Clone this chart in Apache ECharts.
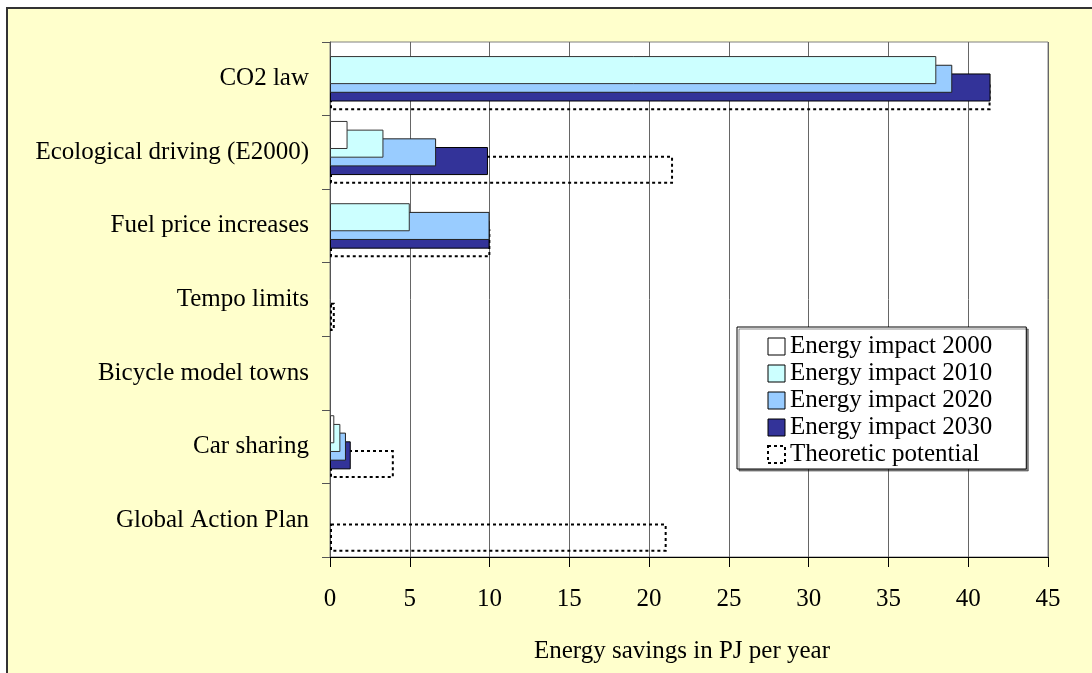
<!DOCTYPE html>
<html>
<head>
<meta charset="utf-8">
<script src="https://cdn.jsdelivr.net/npm/echarts@6/dist/echarts.min.js"></script>
<style>
html,body{margin:0;padding:0;background:#fff;overflow:hidden;width:1092px;height:673px;}
#frame{position:absolute;left:6px;top:7px;width:1200px;height:800px;background:#FFFFCC;border:2px solid #333;}
#chart{position:absolute;left:0;top:0;width:1092px;height:673px;}
</style>
</head>
<body>
<div id="frame"></div>
<div id="chart"></div>
<script>
const categories = ["CO2 law","Ecological driving (E2000)","Fuel price increases","Tempo limits","Bicycle model towns","Car sharing","Global Action Plan"];
const impact2000 = [null, 1.1, null, null, null, 0.27, null];
const impact2010 = [38.0, 3.35, 5.0, null, null, 0.65, null];
const impact2020 = [39.0, 6.65, 10.0, null, null, 1.0, null];
const impact2030 = [41.4, 9.9, 10.0, null, null, 1.3, null];
const theoretic  = [41.4, 21.5, 10.05, 0.3, null, 4.0, 21.1];
const xTicks = {min: 0, max: 45, interval: 5};
const seriesNames = ["Energy impact 2000","Energy impact 2010","Energy impact 2020","Energy impact 2030","Theoretic potential"];

const FONT = "Liberation Serif";
const chart = echarts.init(document.getElementById('chart'), null, {renderer: 'canvas'});

function barSeries(name, data, z, itemStyle) {
  return {
    name: name, type: 'bar', data: data, z: z,
    barGap: '-69%', barCategoryGap: '14.6%',
    itemStyle: itemStyle,
    emphasis: {disabled: true}, animation: false
  };
}

chart.setOption({
  backgroundColor: 'transparent',
  animation: false,
  textStyle: {fontFamily: FONT},
  grid: {left: 330, right: 44, top: 42, bottom: 116, show: true, backgroundColor: '#fff', borderColor: '#808080', borderWidth: 1},
  legend: {
    orient: 'vertical', left: 737, top: 327,
    backgroundColor: '#fff', borderColor: '#000', borderWidth: 1,
    padding: [7, 34, 2, 30],
    itemWidth: 17, itemHeight: 17, itemGap: 2,
    icon: 'rect',
    textStyle: {fontFamily: FONT, fontSize: 25, color: '#000'},
    shadowColor: 'rgba(0,0,0,0.45)', shadowOffsetX: 2, shadowOffsetY: 2,
    data: [
      {name: seriesNames[0], itemStyle: {color: '#fff', borderColor: '#000', borderWidth: 1}},
      {name: seriesNames[1], itemStyle: {color: '#CCFFFF', borderColor: '#000', borderWidth: 1}},
      {name: seriesNames[2], itemStyle: {color: '#99CCFF', borderColor: '#000', borderWidth: 1}},
      {name: seriesNames[3], itemStyle: {color: '#333399', borderColor: '#000', borderWidth: 1}},
      {name: seriesNames[4], itemStyle: {color: '#fff', borderColor: '#000', borderWidth: 2, borderType: [3,3]}}
    ]
  },
  xAxis: {
    type: 'value', min: xTicks.min, max: xTicks.max, interval: xTicks.interval,
    name: 'Energy savings in PJ per year', nameLocation: 'middle', nameGap: 82,
    nameTextStyle: {fontFamily: FONT, fontSize: 25, color: '#000', padding: [0, 14, 0, 0]},
    axisLine: {show: true, lineStyle: {color: '#000', width: 1}},
    axisTick: {show: true, length: 10, lineStyle: {color: '#000'}},
    axisLabel: {fontFamily: FONT, fontSize: 25, color: '#000', margin: 30},
    splitLine: {show: true, lineStyle: {color: '#666', width: 1}}
  },
  yAxis: {
    type: 'category', data: categories, inverse: true,
    axisLine: {show: true, lineStyle: {color: '#555', width: 1}},
    axisTick: {show: true, length: 8, lineStyle: {color: '#555'}},
    axisLabel: {fontFamily: FONT, fontSize: 25, color: '#000', margin: 21, padding: [8, 0, 0, 0]},
    splitLine: {show: false}
  },
  series: [
    barSeries(seriesNames[0], impact2000, 7, {color: '#FFFFFF', borderColor: '#333', borderWidth: 1}),
    barSeries(seriesNames[1], impact2010, 6, {color: '#CCFFFF', borderColor: '#333', borderWidth: 1}),
    barSeries(seriesNames[2], impact2020, 5, {color: '#99CCFF', borderColor: '#222', borderWidth: 1}),
    barSeries(seriesNames[3], impact2030, 4, {color: '#333399', borderColor: '#000', borderWidth: 1}),
    barSeries(seriesNames[4], theoretic, 3, {color: 'rgba(0,0,0,0)', borderColor: '#000', borderWidth: 2, borderType: [3,3]})
  ]
});
</script>
</body>
</html>
